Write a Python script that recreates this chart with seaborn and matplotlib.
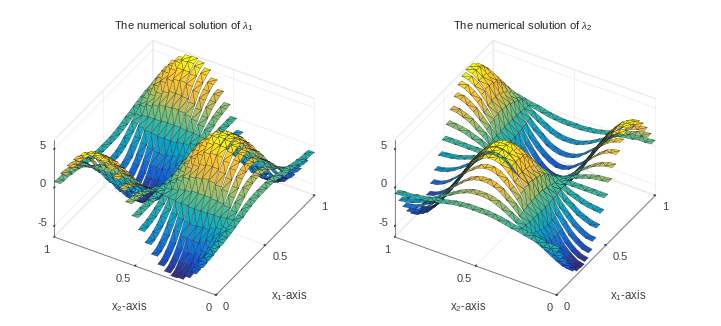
import numpy as np
import seaborn as sns
import matplotlib
matplotlib.use("Agg")
import matplotlib.pyplot as plt
import matplotlib.tri as mtri
from mpl_toolkits.mplot3d import proj3d

# nodes along and across the strips
nodes = [0, .04, .08, .12, .16, .2, .24, .28, .32, .36, .4, .44, .48,
         .52, .56, .6, .64, .68, .72, .76, .8, .84, .88, .92, .96, 1]

# height: row = strip (x2), column = x1 node
# the right panel shows the same heights with x1 and x2 swapped
lam_z = [
 [-.8,-.7,-.7,-.5,-.4,-.2,0,.1,.3,.5,.6,.7,.7,.7,.7,.6,.5,.3,.1,0,-.2,-.4,-.5,-.7,-.7,-.8],
 [-2.2,-2.1,-1.9,-1.6,-1.2,-.7,-.1,.4,.9,1.4,1.8,2.1,2.2,2.2,2.1,1.8,1.4,.9,.4,-.1,-.7,-1.2,-1.6,-1.9,-2.1,-2.2],
 [-3.5,-3.4,-3.1,-2.6,-1.9,-1.1,-.2,.7,1.5,2.2,2.9,3.3,3.5,3.5,3.3,2.9,2.2,1.5,.7,-.2,-1.1,-1.9,-2.6,-3.1,-3.4,-3.5],
 [-4.6,-4.5,-4.1,-3.4,-2.5,-1.4,-.3,.9,2,3,3.7,4.3,4.6,4.6,4.3,3.7,3,2,.9,-.3,-1.4,-2.5,-3.4,-4.1,-4.5,-4.6],
 [-5.4,-5.3,-4.8,-4,-2.9,-1.7,-.3,1,2.3,3.5,4.4,5.1,5.4,5.4,5.1,4.4,3.5,2.3,1,-.3,-1.7,-2.9,-4,-4.8,-5.3,-5.4],
 [-5.9,-5.7,-5.2,-4.3,-3.2,-1.8,-.4,1.1,2.5,3.8,4.8,5.5,5.8,5.8,5.5,4.8,3.8,2.5,1.1,-.4,-1.8,-3.2,-4.3,-5.2,-5.7,-5.9],
 [-6,-5.8,-5.2,-4.4,-3.2,-1.9,-.4,1.1,2.6,3.8,4.8,5.6,5.9,5.9,5.6,4.8,3.8,2.6,1.1,-.4,-1.9,-3.2,-4.4,-5.2,-5.8,-6],
 [-5.7,-5.5,-5,-4.2,-3.1,-1.8,-.4,1.1,2.4,3.6,4.6,5.3,5.7,5.7,5.3,4.6,3.6,2.4,1.1,-.4,-1.8,-3.1,-4.2,-5,-5.5,-5.7],
 [-5.1,-4.9,-4.4,-3.7,-2.7,-1.6,-.3,.9,2.2,3.2,4.1,4.7,5,5,4.7,4.1,3.2,2.2,.9,-.3,-1.6,-2.7,-3.7,-4.4,-4.9,-5.1],
 [-4.1,-4,-3.6,-3,-2.2,-1.3,-.3,.8,1.8,2.6,3.3,3.8,4.1,4.1,3.8,3.3,2.6,1.8,.8,-.3,-1.3,-2.2,-3,-3.6,-4,-4.1],
 [-2.9,-2.8,-2.5,-2.1,-1.5,-.9,-.2,.5,1.2,1.8,2.3,2.7,2.9,2.9,2.7,2.3,1.8,1.2,.5,-.2,-.9,-1.5,-2.1,-2.5,-2.8,-2.9],
 [-1.5,-1.4,-1.3,-1.1,-.8,-.5,-.1,.3,.6,1,1.2,1.4,1.5,1.5,1.4,1.2,1,.6,.3,-.1,-.5,-.8,-1.1,-1.3,-1.4,-1.5],
 [0,0,0,0,0,0,0,0,0,0,0,0,0,0,0,0,0,0,0,0,0,0,0,0,0,0],
 [1.5,1.4,1.3,1.1,.8,.5,.1,-.3,-.6,-1,-1.2,-1.4,-1.5,-1.5,-1.4,-1.2,-1,-.6,-.3,.1,.5,.8,1.1,1.3,1.4,1.5],
 [2.9,2.8,2.5,2.1,1.5,.9,.2,-.5,-1.2,-1.8,-2.3,-2.7,-2.9,-2.9,-2.7,-2.3,-1.8,-1.2,-.5,.2,.9,1.5,2.1,2.5,2.8,2.9],
 [4.1,4,3.6,3,2.2,1.3,.3,-.8,-1.8,-2.6,-3.3,-3.8,-4.1,-4.1,-3.8,-3.3,-2.6,-1.8,-.8,.3,1.3,2.2,3,3.6,4,4.1],
 [5.1,4.9,4.4,3.7,2.7,1.6,.3,-.9,-2.2,-3.2,-4.1,-4.7,-5,-5,-4.7,-4.1,-3.2,-2.2,-.9,.3,1.6,2.7,3.7,4.4,4.9,5.1],
 [5.7,5.5,5,4.2,3.1,1.8,.4,-1.1,-2.4,-3.6,-4.6,-5.3,-5.7,-5.7,-5.3,-4.6,-3.6,-2.4,-1.1,.4,1.8,3.1,4.2,5,5.5,5.7],
 [6,5.8,5.2,4.4,3.2,1.9,.4,-1.1,-2.6,-3.8,-4.8,-5.6,-5.9,-5.9,-5.6,-4.8,-3.8,-2.6,-1.1,.4,1.9,3.2,4.4,5.2,5.8,6],
 [5.9,5.7,5.2,4.3,3.2,1.8,.4,-1.1,-2.5,-3.8,-4.8,-5.5,-5.8,-5.8,-5.5,-4.8,-3.8,-2.5,-1.1,.4,1.8,3.2,4.3,5.2,5.7,5.9],
 [5.4,5.3,4.8,4,2.9,1.7,.3,-1,-2.3,-3.5,-4.4,-5.1,-5.4,-5.4,-5.1,-4.4,-3.5,-2.3,-1,.3,1.7,2.9,4,4.8,5.3,5.4],
 [4.6,4.5,4.1,3.4,2.5,1.4,.3,-.9,-2,-3,-3.7,-4.3,-4.6,-4.6,-4.3,-3.7,-3,-2,-.9,.3,1.4,2.5,3.4,4.1,4.5,4.6],
 [3.5,3.4,3.1,2.6,1.9,1.1,.2,-.7,-1.5,-2.2,-2.9,-3.3,-3.5,-3.5,-3.3,-2.9,-2.2,-1.5,-.7,.2,1.1,1.9,2.6,3.1,3.4,3.5],
 [2.2,2.1,1.9,1.6,1.2,.7,.1,-.4,-.9,-1.4,-1.8,-2.1,-2.2,-2.2,-2.1,-1.8,-1.4,-.9,-.4,.1,.7,1.2,1.6,1.9,2.1,2.2],
 [.8,.7,.7,.5,.4,.2,0,-.1,-.3,-.5,-.6,-.7,-.7,-.7,-.7,-.6,-.5,-.3,-.1,0,.2,.4,.5,.7,.7,.8],
]

titles = [r"The numerical solution of $\lambda_1$", r"The numerical solution of $\lambda_2$"]
parula = ["#352A87", "#0F5CE0", "#1485D8", "#06A7CA", "#38BAA0", "#92C26E", "#E6BC45", "#FDC62C", "#F9FB0E"]

sns.set_theme(style="white")
plt.rcParams["font.family"] = ["Liberation Sans"]
plt.rcParams["mathtext.fontset"] = "custom"
plt.rcParams["mathtext.rm"] = "Liberation Sans"
plt.rcParams["mathtext.it"] = "Liberation Serif:italic"
plt.rcParams["axes.unicode_minus"] = False
cmap = sns.blend_palette(parula, as_cmap=True)

W, H = 721, 326
zmin, zmax = -6.4, 6.2
aspect = (193, 189, 121.5)
gap = 0.002


def strip_mesh(table):
    # each strip is a flat ribbon, its height does not change across its width
    along, across, height, tris = [], [], [], []
    n = len(nodes)
    for k in range(n - 1):
        start = len(along)
        for j in range(n):
            along += [nodes[j], nodes[j]]
            across += [nodes[k] + gap / 2, nodes[k + 1] - gap / 2]
            height += [table[k][j], table[k][j]]
        for j in range(n - 1):
            a = start + 2 * j
            if j % 2 == 0:
                tris += [[a, a + 1, a + 2], [a + 1, a + 3, a + 2]]
            else:
                tris += [[a, a + 1, a + 3], [a, a + 3, a + 2]]
    return np.array(along), np.array(across), np.array(height), tris


def fit_axes(ax, origin):
    # scale and shift the box so its front floor corner lands on origin (px from top left)
    def px(x, y, z):
        X, Y, _ = proj3d.proj_transform(x, y, z, ax.get_proj())
        return ax.transData.transform((X, Y))
    fig.canvas.draw()
    scale = 162 / abs(px(0, 0, zmin)[0] - px(0, 1, zmin)[0])
    ax.set_box_aspect(aspect, zoom=scale)
    fig.canvas.draw()
    now = px(0, 0, zmin)
    pos = ax.get_position(original=True)
    ax.set_position([pos.x0 + (origin[0] - now[0]) / W, pos.y0 + (H - origin[1] - now[1]) / H, pos.width, pos.height])


fig = plt.figure(figsize=(W / 100, H / 100), dpi=100)
along, across, height, tris = strip_mesh(lam_z)

for i, origin in enumerate([(216, 295), (556.7, 295)]):
    ax = fig.add_axes([0.02 + 0.5 * i, 0.02, 0.46, 0.96], projection="3d", proj_type="ortho")
    ax.view_init(elev=37, azim=210.8)
    ax.set_box_aspect(aspect)
    if i == 0:
        tri = mtri.Triangulation(along, across, tris)
    else:
        tri = mtri.Triangulation(across, along, tris)
    ax.plot_trisurf(tri, height, cmap=cmap, vmin=-6, vmax=6, edgecolor="#1a1a1a", linewidth=0.2, antialiased=True)
    ax.set_xlim(0, 1, view_margin=0)
    ax.set_ylim(0, 1, view_margin=0)
    ax.set_zlim(zmin, zmax, view_margin=0)
    ax.set_xticks([0, 0.5, 1], ["0", "0.5", "1"])
    ax.set_yticks([0, 0.5, 1], ["0", "0.5", "1"])
    ax.set_zticks([-5, 0, 5], ["-5", "0", "5"])
    ax.tick_params(labelsize=8, colors="#404040", pad=-3)
    plt.setp(ax.get_xticklabels(), ha="left")
    plt.setp(ax.get_yticklabels(), ha="right")
    plt.setp(ax.get_zticklabels(), va="bottom")
    for axis in (ax.xaxis, ax.yaxis, ax.zaxis):
        axis.set_pane_color("white")
        axis.pane.set_edgecolor("#ebebeb")
        axis.line.set_color("#707070")
        axis.line.set_linewidth(0.6)
        axis._axinfo["grid"].update(color="#ededed", linewidth=0.5)
        axis._axinfo["tick"].update(inward_factor=0, outward_factor=0.08)
    fit_axes(ax, origin)
    # matplotlib turns 3d axis labels along the axis, these stay level
    fig.text((183.5 + 339 * i) / W, 1 - 26 / H, titles[i], fontsize=8.1, color="#262626", ha="center", va="center")
    fig.text((129 + 339 * i) / W, 1 - 307 / H, "x$_2$-axis", fontsize=8.3, color="#404040", ha="center", va="center")
    fig.text((289 + 339 * i) / W, 1 - 296 / H, "x$_1$-axis", fontsize=8.3, color="#404040", ha="center", va="center")

fig.savefig("out.png", dpi=100)
